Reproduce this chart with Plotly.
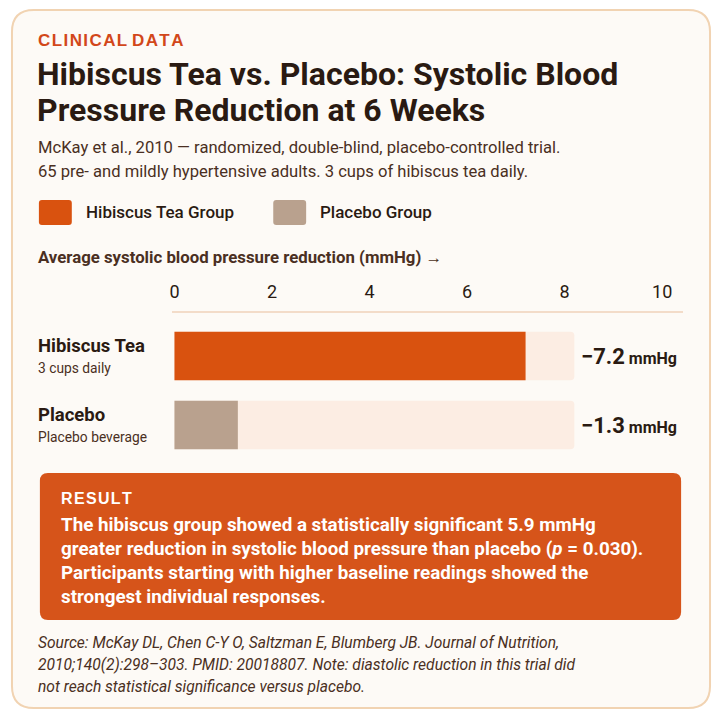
import plotly.graph_objects as go

# ---------------- data ----------------
categories = ["Hibiscus Tea", "Placebo"]
sublabels = ["3 cups daily", "Placebo beverage"]
reductions = [7.2, 1.3]
value_labels = ["−7.2", "−1.3"]
track_max = [8.2, 8.2]
tick_vals = [0, 2, 4, 6, 8, 10]
legend_names = ["Hibiscus Tea Group", "Placebo Group"]

# ---------------- style ----------------
W = H = 720
NARROW = "Roboto, sans-serif"
SANS = "Liberation Sans, Arial, sans-serif"
DARK = "#2A1A12"
MID = "#4A2F22"
ORANGE = "#D9520F"
BEIGE = "#B9A18E"
TRACK = "#FCEDE3"
BOX = "#D6541A"
ACCENT = "#D2471A"
bar_colors = [ORANGE, BEIGE]


def px(x):
    return x / W


def py(y):
    return 1 - y / H


def rrect(x0, y0, x1, y1, r):
    # rounded rectangle path in paper coords from pixel coords
    X = lambda v: f"{px(v):.5f}"
    Y = lambda v: f"{py(v):.5f}"
    return (f"M {X(x0+r)},{Y(y0)} L {X(x1-r)},{Y(y0)} "
            f"Q {X(x1)},{Y(y0)} {X(x1)},{Y(y0+r)} L {X(x1)},{Y(y1-r)} "
            f"Q {X(x1)},{Y(y1)} {X(x1-r)},{Y(y1)} L {X(x0+r)},{Y(y1)} "
            f"Q {X(x0)},{Y(y1)} {X(x0)},{Y(y1-r)} L {X(x0)},{Y(y0+r)} "
            f"Q {X(x0)},{Y(y0)} {X(x0+r)},{Y(y0)} Z")


fig = go.Figure()
fig.add_trace(go.Bar(y=categories, x=track_max, orientation="h",
                     marker=dict(color=TRACK, line=dict(width=0)),
                     width=0.7, hoverinfo="skip", showlegend=False))
fig.add_trace(go.Bar(y=categories, x=reductions, orientation="h",
                     marker=dict(color=bar_colors, line=dict(width=0)),
                     width=0.7, showlegend=False))

shapes = []
# card
shapes.append(dict(type="path", path=rrect(10, 10, 710, 708, 22), xref="paper", yref="paper",
                   fillcolor="#FDFAF6", line=dict(color="#F1D3B2", width=2), layer="below"))
# legend swatches
for (x0, col) in [(37, ORANGE), (272, BEIGE)]:
    shapes.append(dict(type="path", path=rrect(x0, 200, x0 + 33, 225, 3), xref="paper", yref="paper",
                       fillcolor=col, line=dict(width=0), layer="below"))
# result box
shapes.append(dict(type="path", path=rrect(38, 473, 681, 620, 8), xref="paper", yref="paper",
                   fillcolor=BOX, line=dict(width=0), layer="below"))

ann = []


def text(x, y, s, size, color=DARK, family=NARROW, weight=None):
    f = dict(size=size, color=color, family=family)
    if weight:
        f["weight"] = weight
    ann.append(dict(x=px(x - 3), y=py(y), xref="paper", yref="paper", text=s, showarrow=False,
                    xanchor="left", yanchor="middle", align="left", font=f))


T = "\u200a"
text(37, 40, "<b>" + T.join("CLINICAL") + "\u00a0" + T.join("DATA") + "</b>", 17, ACCENT, SANS)
text(36, 74, "<b>Hibiscus Tea vs. Placebo: Systolic Blood</b>", 32)
text(36, 110, "<b>Pressure Reduction at 6 Weeks</b>", 32)
text(37, 148, "McKay et al., 2010 — randomized, double-blind, placebo-controlled trial.", 16.6, MID)
text(37, 171, "65 pre- and mildly hypertensive adults. 3 cups of hibiscus tea daily.", 16.6, MID)
text(85, 212, legend_names[0], 17, DARK, weight=500)
text(320, 212, legend_names[1], 17, DARK, weight=500)
text(37, 257, "<b>Average systolic blood pressure reduction (mmHg) →</b>", 16.8, MID)

row_y = [356, 425]
for i, cat in enumerate(categories):
    text(37, row_y[i] - 10, f"<b>{cat}</b>", 18.5, DARK)
    text(37, row_y[i] + 12, sublabels[i], 13.8, MID)
    text(582, row_y[i], f"<b><span style='font-size:22px'>{value_labels[i]}</span> mmHg</b>", 16, DARK)

text(60, 498, "<b>" + T.join("RESULT") + "</b>", 16, "#FFFFFF", SANS)
body = ["The hibiscus group showed a statistically significant 5.9 mmHg",
        "greater reduction in systolic blood pressure than placebo (<i>p</i> = 0.030).",
        "Participants starting with higher baseline readings showed the",
        "strongest individual responses."]
for i, line in enumerate(body):
    text(60, 525 + 24 * i, f"<b>{line}</b>", 18.8, "#FFFFFF")

src = ["Source: McKay DL, Chen C-Y O, Saltzman E, Blumberg JB. Journal of Nutrition,",
       "2010;140(2):298–303. PMID: 20018807. Note: diastolic reduction in this trial did",
       "not reach statistical significance versus placebo."]
for i, line in enumerate(src):
    text(37, 643 + 22 * i, f"<i>{line}</i>", 15.6, MID)

fig.update_layout(
    width=W, height=H, margin=dict(l=0, r=0, t=0, b=0),
    paper_bgcolor="#FFFFFF", plot_bgcolor="rgba(0,0,0,0)",
    barmode="overlay", barcornerradius=4,
    shapes=shapes, annotations=ann, showlegend=False,
    xaxis=dict(domain=[px(170), px(683)], range=[-0.06, 10.43], side="top",
               tickvals=tick_vals, ticks="", showgrid=False, zeroline=False,
               showline=True, linecolor="#F3DCC9", linewidth=2,
               tickfont=dict(family=NARROW, size=18, color=DARK), ticklabelstandoff=6),
    yaxis=dict(domain=[py(459.5), py(313)], range=[1.5, -0.623], showticklabels=False,
               showgrid=False, zeroline=False, showline=False, ticks=""),
)

fig.write_html("out.html")
